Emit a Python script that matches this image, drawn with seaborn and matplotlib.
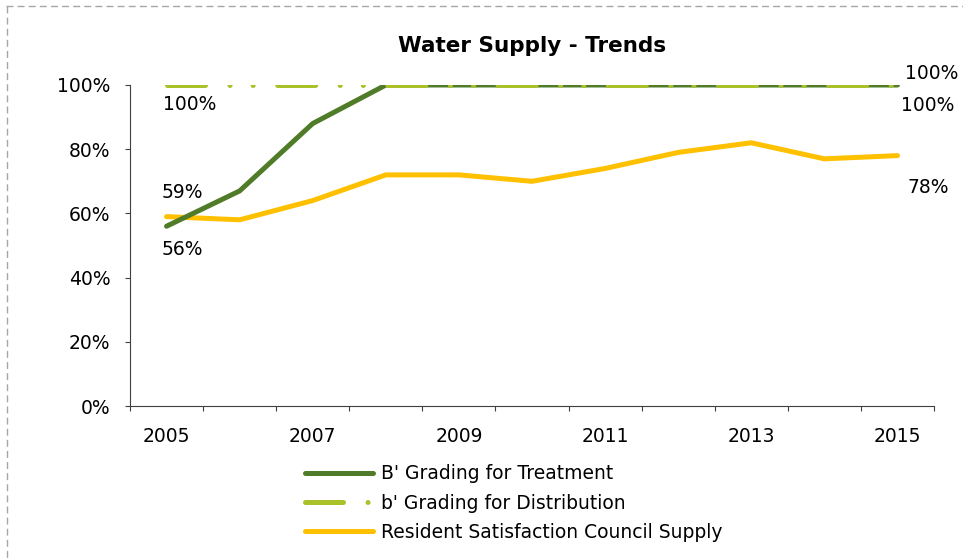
import numpy as np
import pandas as pd
import matplotlib
matplotlib.use("Agg")
import matplotlib.pyplot as plt
import seaborn as sns
from matplotlib.lines import Line2D

years = [2005, 2006, 2007, 2008, 2009, 2010, 2011, 2012, 2013, 2014, 2015]
treatment = [0.56, 0.67, 0.88, 1.00, 1.00, 1.00, 1.00, 1.00, 1.00, 1.00, 1.00]
distribution = [1.00, 1.00, 1.00, 1.00, 1.00, 1.00, 1.00, 1.00, 1.00, 1.00, 1.00]
satisfaction = [0.59, 0.58, 0.64, 0.72, 0.72, 0.70, 0.74, 0.79, 0.82, 0.77, 0.78]
series_names = ["B' Grading for Treatment", "b' Grading for Distribution",
                "Resident Satisfaction Council Supply"]
title = "Water Supply - Trends"

sns.set_theme(style="white")
plt.rcParams['font.family'] = ['DejaVu Sans']
plt.rcParams['text.color'] = 'black'
plt.rcParams['xtick.color'] = 'black'
plt.rcParams['ytick.color'] = 'black'

c_treat = "#507C29"
c_dist = "#ABC12A"
c_sat = "#FFC000"

fig = plt.figure(figsize=(9.63, 5.58), dpi=100)
ax = fig.add_axes([130/963, 1 - 406/558, (934-130)/963, (406-85)/558])

pos = np.arange(len(years))
df = pd.DataFrame({"pos": pos, "treat": treatment, "dist": distribution, "sat": satisfaction})

lw = 3.6
sns.lineplot(data=df, x="pos", y="sat", ax=ax, color=c_sat, linewidth=lw,
             solid_capstyle="round", zorder=3)
sns.lineplot(data=df, x="pos", y="treat", ax=ax, color=c_treat, linewidth=lw,
             solid_capstyle="round", zorder=4)
dash_pat = (0, (7.6, 4.9, 0.02, 4.6, 0.02, 4.9))
sns.lineplot(data=df, x="pos", y="dist", ax=ax, color=c_dist, linewidth=lw,
             linestyle=dash_pat, dash_capstyle="round", zorder=5)

ax.set_xlim(-0.5, len(years) - 0.5)
ax.set_ylim(0, 1.0)
ax.set_xlabel("")
ax.set_ylabel("")

fs = 13.5
ax.set_yticks(np.arange(0, 1.01, 0.2))
ax.set_yticklabels([f"{int(round(v*100))}%" for v in np.arange(0, 1.01, 0.2)], fontsize=fs)
ax.set_xticks(pos[::2])
ax.set_xticklabels([str(y) for y in years[::2]], fontsize=fs)
ax.set_xticks(np.arange(-0.5, len(years), 1.0), minor=True)
ax.tick_params(axis="x", which="both", bottom=True)
ax.tick_params(axis="y", which="both", left=True)
ax.tick_params(axis="x", which="major", length=0, pad=15)
ax.tick_params(axis="x", which="minor", length=3.6, width=0.8, color="#404040", direction="out")
ax.tick_params(axis="y", which="major", length=3.6, width=0.8, color="#404040", direction="out", pad=10.5)
for s in ["top", "right"]:
    ax.spines[s].set_visible(False)
for s in ["left", "bottom"]:
    ax.spines[s].set_color("#404040")
    ax.spines[s].set_linewidth(0.8)

# data labels
def lab(i, v, txt, dx, dy):
    ax.annotate(txt, (pos[i], v), xytext=(dx, dy), textcoords="offset points",
                ha="center", va="center", fontsize=fs, color="black")

lab(0, distribution[0], f"{int(distribution[0]*100)}%", 17, -14)
lab(0, satisfaction[0], f"{int(satisfaction[0]*100)}%", 11, 17)
lab(0, treatment[0], f"{int(treatment[0]*100)}%", 11, -17)
lab(10, distribution[-1], f"{int(distribution[-1]*100)}%", 25, 8)
lab(10, treatment[-1], f"{int(treatment[-1]*100)}%", 22, -15)
lab(10, satisfaction[-1], f"{int(satisfaction[-1]*100)}%", 22, -23)

fig.text(532/963, 1 - 46/558, title, ha="center", va="center",
         fontsize=15.5, fontweight="bold")

handles = [
    Line2D([], [], color=c_treat, linewidth=lw, solid_capstyle="round"),
    Line2D([], [], color=c_dist, linewidth=lw, linestyle=dash_pat, dash_capstyle="round"),
    Line2D([], [], color=c_sat, linewidth=lw, solid_capstyle="round"),
]
fig.legend(handles, series_names, loc="upper left",
           bbox_to_anchor=(296/963, 1 - 455/558), frameon=False, fontsize=fs,
           handlelength=3.6, handletextpad=0.45, labelspacing=0.55, borderpad=0)

# dashed chart-area border (top and left edges visible)
fig.add_artist(Line2D([6/963, 1.0], [1 - 6/558, 1 - 6/558], transform=fig.transFigure,
                      color="#A6A6A6", linewidth=1, linestyle=(0, (5, 3))))
fig.add_artist(Line2D([7/963, 7/963], [1 - 6/558, 0], transform=fig.transFigure,
                      color="#A6A6A6", linewidth=1, linestyle=(0, (5, 3))))

fig.savefig("out.png", dpi=100)
